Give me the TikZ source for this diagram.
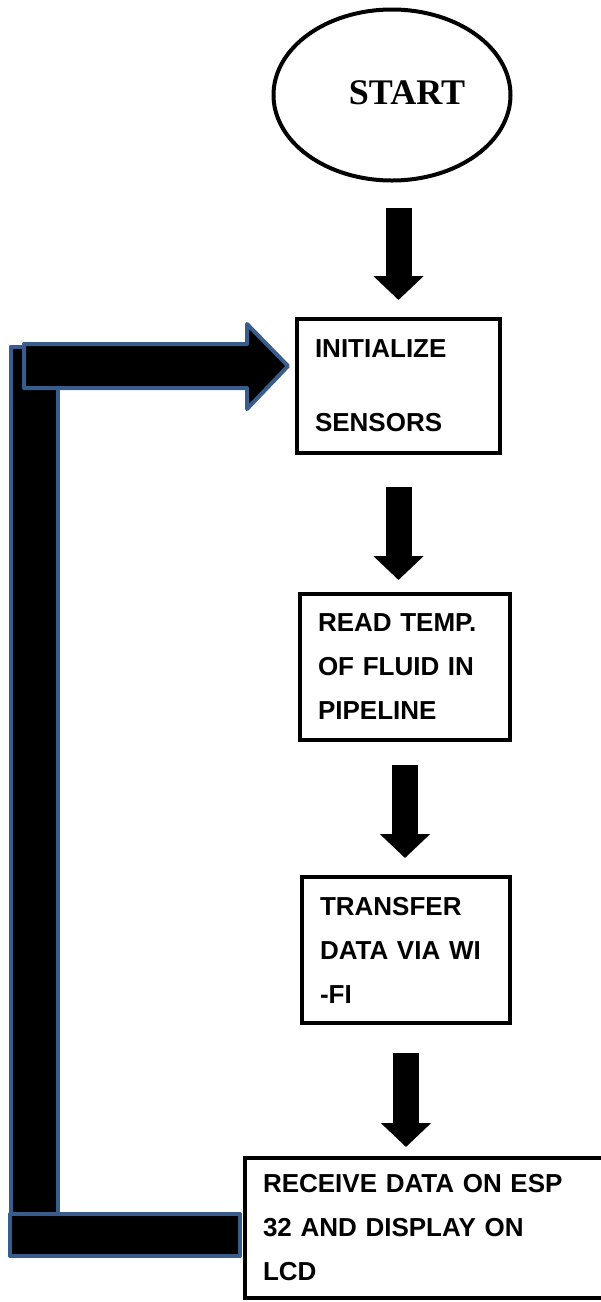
\documentclass[tikz,border=0pt]{standalone}
\usepackage{fontspec}
\setmainfont{Liberation Sans}
\newfontfamily\startfont{Liberation Serif}
\usetikzlibrary{shapes,arrows.meta,positioning,calc}
\definecolor{loopblue}{RGB}{56,93,138}
\tikzstyle{terminal} = [ellipse, draw, line width=4pt, minimum width=237pt,
minimum height=171pt, inner sep=0pt, outer sep=0pt,
font=\startfont\bfseries\fontsize{36}{40}\selectfont]
\tikzstyle{block} = [rectangle, draw, line width=4pt, align=left,
inner xsep=18pt, inner ysep=0pt, outer sep=0pt,
font=\bfseries\fontsize{26}{44}\selectfont]
\tikzstyle{line} = [draw, line width=26pt, -{Triangle[width=49pt,length=24pt]}]
\tikzstyle{loopbar} = [fill=black, draw=loopblue, line width=4pt, line join=round]

\begin{document}
\begin{tikzpicture}[x=1pt, y=-1pt, auto]
\useasboundingbox (0,0) rectangle (601,1302);
% Place nodes
\node [terminal] (start) at (392,95) {\raisebox{4pt}{\hspace*{30pt}START}};
\node [block, below of=start, node distance=291pt, xshift=6.5pt,
  text width=167pt, minimum height=134pt] (init) {INITIALIZE\\[30pt]SENSORS};
\node [block, below of=init, node distance=281pt, xshift=6.5pt,
  text width=174pt, minimum height=146pt] (read) {READ TEMP.\\OF FLUID IN\\PIPELINE};
\node [block, below of=read, node distance=283pt, xshift=1pt,
  text width=172pt, minimum height=146pt] (transfer) {TRANSFER\\DATA VIA WI\\-FI};
\node [block, below of=transfer, node distance=278pt, xshift=39pt,
  text width=364pt, minimum height=140pt] (receive) {RECEIVE DATA ON ESP\\32 AND DISPLAY ON\\LCD};
% Draw edges
\path [line, shorten <=27pt, shorten >=19pt] (start.south -| init.north) -- (init.north);
\path [line, shorten <=34pt, shorten >=14pt] (init.south) -- (read.north -| init.south);
\path [line, shorten <=25pt, shorten >=19pt] (read.south) -- (transfer.north -| read.south);
\path [line, shorten <=30pt, shorten >=11pt] (transfer.south) -- (receive.north -| transfer.south);
% Loop back
\coordinate (looptip) at ($(init.west)+(-9,-20)$);
\coordinate (loopend) at ($(receive.west)+(-5,7)$);
\path [loopbar] (10.5,347) rectangle (57.5,1214);
\path [loopbar] (24,344) -- (247,344) -- (247,324) -- (looptip)
  -- (247,409) -- (247,388) -- (24,388) -- cycle;
\path [loopbar] (10,1214) rectangle (loopend |- 0,1256);
\end{tikzpicture}
\end{document}
